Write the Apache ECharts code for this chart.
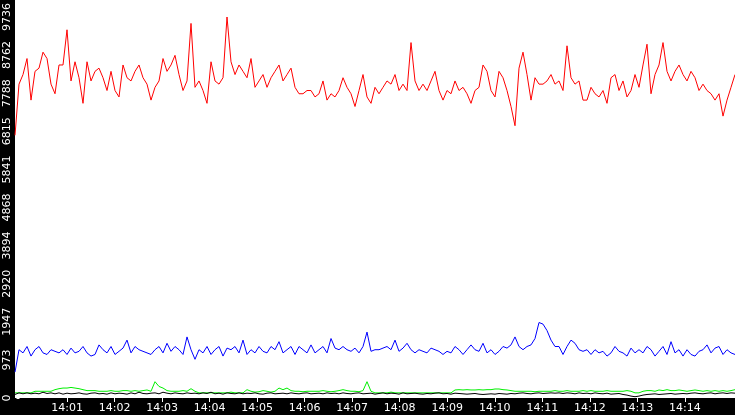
<!DOCTYPE html>
<html><head><meta charset="utf-8">
<script src="https://cdn.jsdelivr.net/npm/echarts@6/dist/echarts.min.js"></script>
<style>html,body{margin:0;padding:0;background:#fff}#c{width:735px;height:415px}</style>
</head><body><div id="c"></div>
<script>
// seconds relative to 14:00:00
const startSec = -5.7;
const stepSec = 5.05;
const xTickSecs = [60,120,180,240,300,360,420,480,540,600,660,720,780,840];
const yMax = 9736;

const red = [6713,8020,8265,8674,7612,8347,8429,8837,8674,8020,7775,8510,8510,9409,8102,8592,8184,7530,8592,8102,8347,8429,8184,7857,8347,7857,7693,8510,8184,8102,8347,8510,8184,8020,7612,7939,8102,8674,8347,8510,8756,8265,7857,8102,9572,7939,
8102,7857,7530,8592,8102,8020,8184,9736,8592,8265,8510,8347,8184,8674,7939,8102,8265,7939,8184,8347,8510,8102,8265,8429,7939,7775,7775,7857,7857,7693,7775,8102,7612,7775,7693,7857,8184,7939,7775,7449,7857,8265,7693,7530,7939,
7775,7939,8102,8020,8265,7857,8020,7857,9082,8102,7857,8020,7857,8102,8347,7857,7612,7857,7775,8102,7857,7939,7775,7530,7857,7939,8510,8347,7857,7693,8347,8184,7857,7449,6958,8429,8837,8265,7612,8184,8020,8020,8102,8265,8020,
8102,7857,9000,8184,8020,8102,7612,7612,7939,7775,7693,7857,7530,8184,8265,7857,8102,7693,7857,8265,7939,8510,9040,7775,8265,8510,9082,8347,8102,8347,8510,8265,8102,8347,8184,7857,8020,7857,7775,7612,7775,7203,7612,7939,8265];

const blue = [662,1234,1153,1316,1071,1234,1316,1153,1112,1234,1193,1153,1234,1112,1275,1153,1193,1316,1153,1071,1112,1357,1234,1153,1316,1112,1193,1275,1479,1153,1316,1234,1193,1153,1112,1234,1316,1153,1398,1193,1316,1234,1112,1561,1234,989,
1234,1153,1316,1112,1234,1316,1071,1275,1234,1316,1153,1479,1112,1234,1153,1316,1193,1153,1316,1234,1439,1153,1234,1316,1112,1316,1234,1153,1357,1153,1234,1316,1153,1520,1275,1234,1316,1234,1193,1275,1153,1316,1684,1193,1234,
1234,1275,1316,1234,1479,1193,1275,1398,1234,1153,1234,1193,1153,1275,1234,1193,1112,1193,1153,1316,1234,1112,1234,1357,1234,1193,1398,1153,1234,1112,1193,1316,1275,1357,1561,1316,1234,1316,1357,1520,1929,1888,1724,1479,1316,
1316,1112,1316,1479,1398,1234,1193,1234,1112,1234,1153,1193,1071,1153,1316,1193,1153,1071,1275,1153,1234,1153,1316,1234,1071,1193,1316,1112,1439,1153,1234,1071,1234,1112,1071,1193,1234,1357,1153,1275,1316,1112,1234,1153,1112];

const green = [131,131,131,131,131,172,172,172,172,172,213,238,254,254,270,254,238,213,189,189,189,172,172,172,189,172,172,189,189,172,189,172,189,205,172,417,295,254,189,172,172,172,189,172,238,172,
131,131,131,131,131,131,131,131,150,131,131,131,213,172,150,160,189,172,150,172,254,213,254,189,172,172,160,172,172,172,172,189,172,160,172,189,213,189,172,172,160,189,417,172,131,
131,131,131,150,131,131,131,131,131,131,131,131,131,131,131,131,131,131,131,205,213,205,213,205,205,213,205,213,213,230,230,213,205,189,172,172,172,172,172,160,172,172,172,172,189,
172,172,189,172,172,172,189,172,189,172,172,172,189,172,172,172,172,189,172,131,131,172,189,189,172,205,189,213,189,189,205,189,172,189,205,189,172,189,172,189,172,189,172,189,213];

const black = [90,131,107,131,107,123,107,148,115,131,107,131,98,123,107,115,131,107,98,123,131,107,115,98,131,107,123,115,98,131,107,148,115,107,123,131,107,148,123,107,131,115,107,131,115,123,
107,131,115,148,107,123,98,131,115,107,131,107,123,115,131,107,98,123,131,107,115,123,107,131,115,107,123,131,107,115,123,107,131,115,123,107,131,115,107,123,131,107,115,123,98,
115,131,107,123,115,98,131,107,115,123,107,98,115,107,123,131,107,115,98,123,115,107,98,107,115,98,90,98,107,98,115,107,98,115,107,123,131,115,107,123,131,115,123,131,123,
131,115,131,123,107,131,115,123,107,131,115,107,123,98,107,115,90,74,49,33,49,74,90,98,107,90,98,107,115,98,107,115,107,123,131,115,107,123,131,107,123,131,115,131,123];

function pairs(arr){ return arr.map((v,i)=>[startSec+i*stepSec, v]); }
const xMin = startSec, xMax = startSec + (red.length-1)*stepSec;
const fmt = s => { const m = 14*60 + Math.round(s/60); return String(Math.floor(m/60)).padStart(2,'0')+':'+String(m%60).padStart(2,'0'); };

const chart = echarts.init(document.getElementById('c'), null, {renderer:'canvas'});
const ln = (name,data,color)=>({name,type:'line',data:pairs(data),showSymbol:false,symbol:'none',lineStyle:{color,width:1},itemStyle:{color},animation:false,z:3});
chart.setOption({
  animation:false,
  graphic:[
    {type:'rect',left:0,top:0,shape:{width:15,height:415},style:{fill:'#000'},z:-10},
    {type:'rect',left:0,top:398,shape:{width:735,height:17},style:{fill:'#000'},z:-10}
  ],
  grid:{left:15,right:0,top:0,bottom:17},
  xAxis:{type:'value',min:xMin,max:xMax,
    axisLine:{show:false},splitLine:{show:false},
    axisTick:{show:true,length:4,inside:false,lineStyle:{color:'#fff'},customValues:xTickSecs},
    axisLabel:{color:'#fff',fontSize:11,fontFamily:'DejaVu Sans',margin:5,customValues:xTickSecs,formatter:fmt}},
  yAxis:{type:'value',min:0,max:yMax,interval:yMax/10,
    axisLine:{show:false},splitLine:{show:false},
    axisTick:{show:true,length:3,lineStyle:{color:'#fff'}},
    axisLabel:{color:'#fff',fontSize:11,fontFamily:'DejaVu Sans',rotate:90,margin:2,
      formatter:v=>String(Math.floor(v+1e-6))}},
  series:[ln('green',green,'#00ee00'),ln('black',black,'#000'),ln('blue',blue,'#0000ff'),ln('red',red,'#ff0000')]
});
</script></body></html>
